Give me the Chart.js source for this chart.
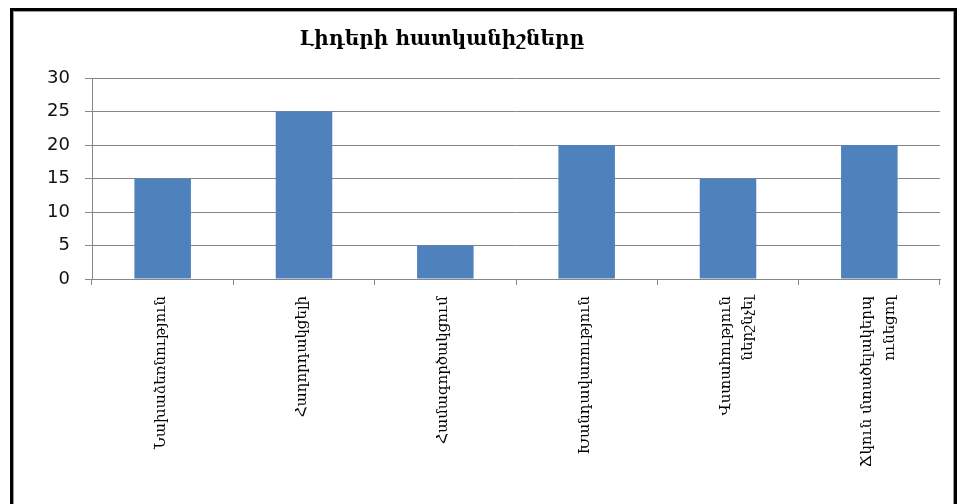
<!DOCTYPE html>
<html>
<head>
<meta charset="utf-8">
<script src="https://cdn.jsdelivr.net/npm/chart.js@4/dist/chart.umd.min.js"></script>
<style>
  html, body { margin: 0; padding: 0; background: #fff; overflow: hidden; }
  #frame {
    position: absolute; left: 10px; top: 8px; width: 941px; height: 520px;
    border: 3px solid #000; box-shadow: inset 0 0 0 1px #999;
  }
  #wrap { position: absolute; left: 0; top: 0; width: 968px; height: 504px; }
</style>
</head>
<body>
<div id="frame"></div>
<div id="wrap"><canvas id="leaderChart"></canvas></div>
<script>
const titleText = 'Լիդերի հատկանիշները';
const categories = [
    'Նախաձեռնություն',
    'Հաղորդակցելի',
    'Համագործակցում',
    'Խանդավառություն',
    ['Վստահություն', 'ներշնչել'],
    ['Ճկուն մտածելակերպ', 'ունեցող']
];
const values = [15, 25, 5, 20, 15, 20];
const yTicks = [0, 5, 10, 15, 20, 25, 30];

// title is drawn by hand so it can sit left of the canvas centre
const titlePlugin = {
    id: 'fixedTitle',
    afterDraw(chart) {
        const ctx = chart.ctx;
        ctx.save();
        ctx.font = 'bold 20px "DejaVu Serif"';
        ctx.fillStyle = '#000';
        ctx.textAlign = 'center';
        ctx.textBaseline = 'middle';
        ctx.fillText(titleText, 442, 40);
        ctx.restore();
    }
};

const ctx = document.getElementById('leaderChart').getContext('2d');
new Chart(ctx, {
    type: 'bar',
    data: {
        labels: categories,
        datasets: [{
            data: values,
            backgroundColor: '#4F81BD',
            borderWidth: 0,
            barPercentage: 0.4,
            categoryPercentage: 1
        }]
    },
    options: {
        responsive: true,
        maintainAspectRatio: false,
        animation: false,
        layout: { padding: { top: 78, right: 28, left: 0, bottom: 0 } },
        plugins: {
            legend: { display: false },
            tooltip: { enabled: false },
            title: { display: false }
        },
        scales: {
            x: {
                grid: {
                    drawOnChartArea: false,
                    drawTicks: true,
                    tickLength: 6,
                    color: '#868686',
                    offset: true
                },
                border: { color: '#868686' },
                ticks: {
                    autoSkip: false,
                    minRotation: 90,
                    maxRotation: 90,
                    padding: 11,
                    labelOffset: -2,
                    color: '#000',
                    font: { family: '"DejaVu Serif"', size: 15, lineHeight: 1.5 }
                },
                afterFit(scale) { scale.height = 225; }
            },
            y: {
                min: 0,
                max: 30,
                afterBuildTicks(scale) { scale.ticks = yTicks.map(v => ({ value: v })); },
                grid: { color: '#868686', tickLength: 7 },
                border: { color: '#868686' },
                ticks: {
                    padding: 15,
                    color: '#111',
                    font: { family: '"DejaVu Sans"', size: 18 }
                },
                afterFit(scale) { scale.width = 92; }
            }
        }
    },
    plugins: [titlePlugin]
});
</script>
</body>
</html>
